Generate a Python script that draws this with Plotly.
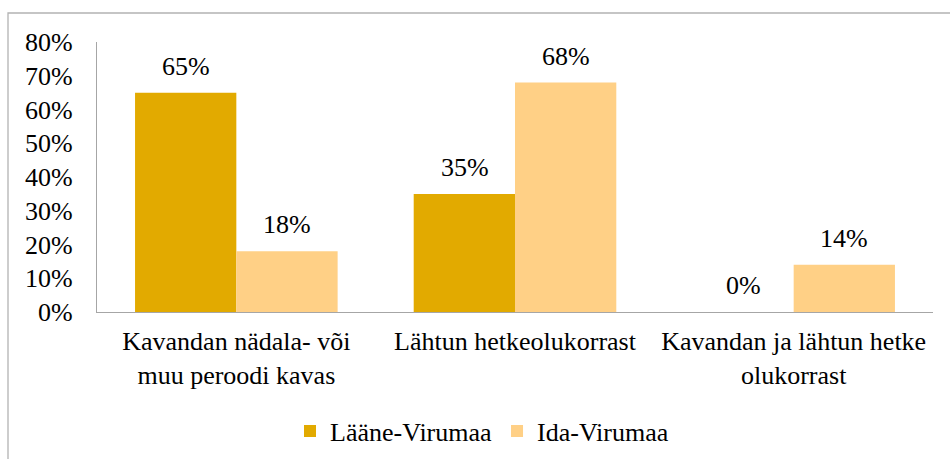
import plotly.graph_objects as go

# data
categories = ["Kavandan nädala- või<br>muu peroodi kavas",
              "Lähtun hetkeolukorrast",
              "Kavandan ja lähtun hetke<br>olukorrast"]
laane = [0.65, 0.35, 0.00]
ida = [0.18, 0.68, 0.14]
series_names = ["Lääne-Virumaa", "Ida-Virumaa"]
colors = ["#E2AA00", "#FFD086"]

font_name = "Liberation Serif"
fs = 26

fig = go.Figure()
for name, vals, col in zip(series_names, [laane, ida], colors):
    fig.add_trace(go.Bar(x=categories, y=vals, name=name, marker_color=col,
                         marker_line_width=0))

# value labels above bars
half = 101 / 2
for i, vals in enumerate([laane, ida]):
    shift = -half if i == 0 else half
    for c, v in zip(categories, vals):
        fig.add_annotation(x=c, y=v, xshift=shift, yshift=10, text=f"{v:.0%}",
                           showarrow=False, yanchor="bottom",
                           font=dict(family=font_name, size=fs, color="black"))

W, H = 950, 459
ml, mr, mt, mb = 97, 17, 42, 147
pw, ph = W - ml - mr, H - mt - mb

# outer chart border (left and top edges visible)
fig.add_shape(type="rect", xref="paper", yref="paper",
              x0=(8 - ml) / pw, x1=(W + 20 - ml) / pw,
              y0=-(mb + 20) / ph, y1=(H - mb - 13) / ph,
              line=dict(color="#B3B3B3", width=1.3), layer="below")

fig.update_layout(
    width=W, height=H,
    margin=dict(l=ml, r=mr, t=mt, b=mb, autoexpand=False),
    paper_bgcolor="white", plot_bgcolor="white",
    barmode="group", bargap=0.273, bargroupgap=0,
    font=dict(family=font_name, size=fs, color="black"),
    showlegend=True,
    legend=dict(orientation="h", x=(482 - ml) / pw, xanchor="center",
                y=-(431 - (H - mb)) / ph, yanchor="middle",
                font=dict(family=font_name, size=fs), itemwidth=30),
)
fig.update_yaxes(range=[0, 0.8], dtick=0.1, tickformat=".0%", showgrid=False,
                 showline=True, linecolor="#A6A6A6", linewidth=1.3,
                 ticks="", ticklabelstandoff=18, zeroline=False, automargin=False,
                 tickfont=dict(family=font_name, size=fs))
fig.update_xaxes(showline=True, linecolor="#A6A6A6", linewidth=1.3, ticks="",
                 showgrid=False, automargin=False, ticklabelstandoff=6,
                 tickfont=dict(family=font_name, size=fs))

fig.write_html("out.html", config={"displayModeBar": False},
               post_script="document.body.style.margin='0px';")
